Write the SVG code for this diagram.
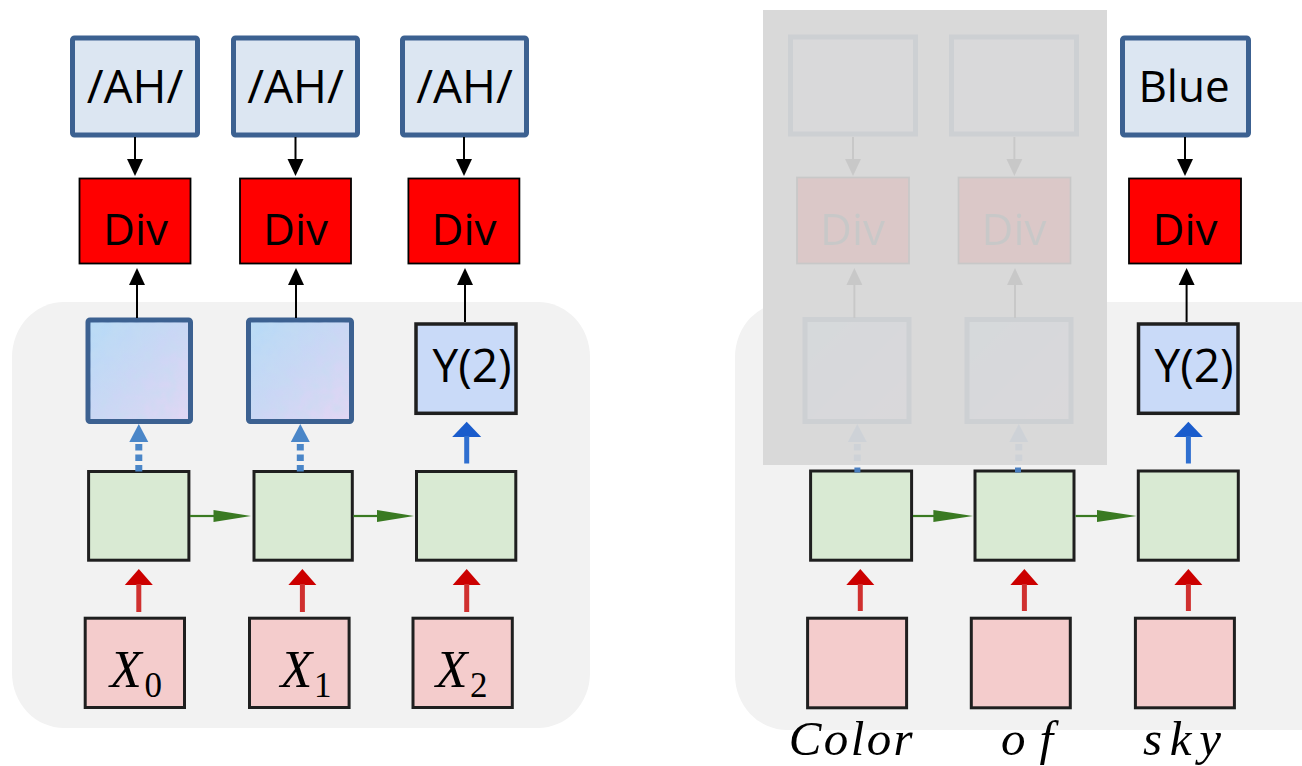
<svg xmlns="http://www.w3.org/2000/svg" width="1302" height="766" viewBox="0 0 1302 766">
<defs>
<linearGradient id="hidGrad" x1="0" y1="0" x2="1" y2="1">
<stop offset="0" stop-color="#b4dbf7"/>
<stop offset="0.5" stop-color="#cbd6f5"/>
<stop offset="1" stop-color="#e5d6f3"/>
</linearGradient>
<filter id="mottle" x="0" y="0" width="100%" height="100%">
<feTurbulence type="fractalNoise" baseFrequency="0.09" numOctaves="2" seed="4"/>
<feColorMatrix values="0 0 0 0 0.55  0 0 0 0 0.72  0 0 0 0 0.88  0 0 0 0.9 -0.25"/>
<feComposite in2="SourceGraphic" operator="in"/>
</filter>
<style>
.bg{fill:#f2f2f2}
.ah{fill:#dce6f2;stroke:#3c6191;stroke-width:5}
.dv{fill:#ff0000;stroke:#000;stroke-width:1.8}
.hid{fill:url(#hidGrad);stroke:#3c6191;stroke-width:5}
.tex{fill:#fff;filter:url(#mottle)}
.yb{fill:#c9daf8;stroke:#1f1f1f;stroke-width:3.5}
.rnn{fill:#d9ead3;stroke:#1f1f1f;stroke-width:3}
.inp{fill:#f4cccc;stroke:#1f1f1f;stroke-width:3}
.lbl{font-family:"Open Sans","Liberation Sans",sans-serif;fill:#000;text-anchor:middle}
.mi{font-family:"Liberation Serif",serif;font-style:italic;fill:#000}
.mu{font-family:"Liberation Serif",serif;fill:#000}
.blk{stroke:#000;stroke-width:2;fill:none}
.blkh{fill:#000}
.dot{stroke:#4a86c8;stroke-width:7;stroke-dasharray:6.5 4;fill:none}
.doth{fill:#4a86c8}
.sol{stroke:#2f6fd0;stroke-width:5;fill:none}
.solh{fill:#1a5ccc}
.red{stroke:#d0302f;stroke-width:5;fill:none}
.redh{fill:#cc0000}
.grn{stroke:#3a7a22;stroke-width:2.2;fill:none}
.grnh{fill:#3a7a22}
.ghost{opacity:0.07}
</style>
</defs>

<g id="backgrounds">
<rect class="bg" x="12" y="302" width="578" height="426" rx="52" ry="55"/>
<rect class="bg" x="735" y="302" width="620" height="428" rx="52" ry="55"/>
</g>

<g id="ah-0"><rect class="ah" x="72.5" y="38" width="125" height="97" rx="2"/><text class="lbl" x="135" y="103" font-size="46">/AH/</text></g>
<g id="ah-1"><rect class="ah" x="233.5" y="38" width="124" height="97" rx="2"/><text class="lbl" x="295.5" y="103" font-size="46">/AH/</text></g>
<g id="ah-2"><rect class="ah" x="402.5" y="38" width="124" height="97" rx="2"/><text class="lbl" x="464.5" y="103" font-size="46">/AH/</text></g>

<g id="div-0"><rect class="dv" x="79.5" y="178.5" width="111" height="85"/><text class="lbl" x="135.5" y="245" font-size="44">Div</text></g>
<g id="div-1"><rect class="dv" x="240" y="178.5" width="111" height="85"/><text class="lbl" x="295.5" y="245" font-size="44">Div</text></g>
<g id="div-2"><rect class="dv" x="408.4" y="178.5" width="111" height="85"/><text class="lbl" x="464" y="245" font-size="44">Div</text></g>

<g id="hidden-0"><rect class="hid" x="88" y="320" width="102.5" height="101.5" rx="2"/><rect class="tex" x="90.5" y="322.5" width="97.5" height="96.5"/></g>
<g id="hidden-1"><rect class="hid" x="248.5" y="320" width="103" height="101.5" rx="2"/><rect class="tex" x="251" y="322.5" width="98" height="96.5"/></g>
<g id="y-left"><rect class="yb" x="416" y="324" width="100" height="89.3"/><text class="lbl" x="472" y="382" font-size="46">Y(2)</text></g>

<g id="rnn-0"><rect class="rnn" x="88.6" y="471.5" width="100.3" height="88.7"/></g>
<g id="rnn-1"><rect class="rnn" x="254" y="471.5" width="98.3" height="88.7"/></g>
<g id="rnn-2"><rect class="rnn" x="416.5" y="471.5" width="99.3" height="88.7"/></g>

<g id="x-0"><rect class="inp" x="85.2" y="618.2" width="99.3" height="89.3"/><text class="mi" x="110" y="687" font-size="52">X</text><text class="mu" x="144.6" y="697" font-size="35">0</text></g>
<g id="x-1"><rect class="inp" x="249.5" y="618.2" width="99.6" height="89.3"/><text class="mi" x="280.4" y="687" font-size="52">X</text><text class="mu" x="314" y="697" font-size="35">1</text></g>
<g id="x-2"><rect class="inp" x="413" y="618.2" width="99.3" height="89.3"/><text class="mi" x="435.7" y="687" font-size="52">X</text><text class="mu" x="470" y="697" font-size="35">2</text></g>

<g id="blue"><rect class="ah" x="1122.5" y="38" width="126" height="97" rx="2"/><text class="lbl" x="1184" y="102" font-size="44">Blue</text></g>
<g id="div-r"><rect class="dv" x="1129" y="178.5" width="112" height="85"/><text class="lbl" x="1185" y="245" font-size="44">Div</text></g>
<g id="y-right"><rect class="yb" x="1138.5" y="324" width="99.5" height="89.3"/><text class="lbl" x="1194" y="382" font-size="46">Y(2)</text></g>

<g id="rnn-r0"><rect class="rnn" x="810.6" y="471" width="101" height="89.2"/></g>
<g id="rnn-r1"><rect class="rnn" x="975" y="471" width="99" height="89.2"/></g>
<g id="rnn-r2"><rect class="rnn" x="1138.3" y="471" width="100" height="89.2"/></g>

<g id="in-color"><rect class="inp" x="807.6" y="618.2" width="99" height="89.6"/><text class="mi" x="788.7" y="755" font-size="49" textLength="124" lengthAdjust="spacing">Color</text></g>
<g id="in-of"><rect class="inp" x="971.3" y="618.2" width="99" height="89.6"/><text class="mi" x="1001" y="755" font-size="49" textLength="52" lengthAdjust="spacing">of</text></g>
<g id="in-sky"><rect class="inp" x="1135.4" y="618.2" width="99" height="89.6"/><text class="mi" x="1143" y="755" font-size="49" textLength="78" lengthAdjust="spacing">sky</text></g>

<g id="connectors">
<line class="blk" x1="135" y1="137" x2="135" y2="160"/><polygon class="blkh" points="127,159 143,159 135,176"/>
<line class="blk" x1="295.5" y1="137" x2="295.5" y2="160"/><polygon class="blkh" points="287.5,159 303.5,159 295.5,176"/>
<line class="blk" x1="464" y1="137" x2="464" y2="160"/><polygon class="blkh" points="456,159 472,159 464,176"/>
<line class="blk" x1="1185" y1="137" x2="1185" y2="160"/><polygon class="blkh" points="1177,159 1193,159 1185,176"/>
<line class="blk" x1="137" y1="318" x2="137" y2="283"/><polygon class="blkh" points="129,285 145,285 137,268"/>
<line class="blk" x1="296" y1="318" x2="296" y2="283"/><polygon class="blkh" points="288,285 304,285 296,268"/>
<line class="blk" x1="465" y1="322" x2="465" y2="283"/><polygon class="blkh" points="457,285 473,285 465,268"/>
<line class="blk" x1="1186.6" y1="322" x2="1186.6" y2="283"/><polygon class="blkh" points="1178.6,285 1194.6,285 1186.6,268"/>
<polygon class="doth" points="129.3,442 148.3,442 138.8,424"/><line class="dot" x1="138.8" y1="444" x2="138.8" y2="473"/>
<polygon class="doth" points="290.8,442 309.8,442 300.3,424"/><line class="dot" x1="300.3" y1="444" x2="300.3" y2="473"/>
<polygon class="solh" points="452.2,437 481.2,437 466.7,421.7"/><line class="sol" x1="466.7" y1="436" x2="466.7" y2="463.5"/>
<polygon class="solh" points="1173.9,437 1202.9,437 1188.4,421.7"/><line class="sol" x1="1188.4" y1="436" x2="1188.4" y2="463.5"/>
<line class="grn" x1="190" y1="516" x2="215" y2="516"/><polygon class="grnh" points="213.5,510 213.5,522 251,516"/>
<line class="grn" x1="353.5" y1="516" x2="378" y2="516"/><polygon class="grnh" points="377,510 377,522 414,516"/>
<line class="grn" x1="913" y1="516" x2="935" y2="516"/><polygon class="grnh" points="933.4,510 933.4,522 973,516"/>
<line class="grn" x1="1075.5" y1="516" x2="1099" y2="516"/><polygon class="grnh" points="1097,510 1097,522 1136.5,516"/>
<polygon class="redh" points="124.8,585 152.8,585 138.8,569"/><line class="red" x1="138.8" y1="584" x2="138.8" y2="612"/>
<polygon class="redh" points="288.4,585 316.4,585 302.4,569"/><line class="red" x1="302.4" y1="584" x2="302.4" y2="612"/>
<polygon class="redh" points="452.7,585 480.7,585 466.7,569"/><line class="red" x1="466.7" y1="584" x2="466.7" y2="612"/>
<polygon class="redh" points="846.3,585 874.3,585 860.3,569"/><line class="red" x1="860.3" y1="584" x2="860.3" y2="611"/>
<polygon class="redh" points="1010.4,585 1038.4,585 1024.4,569"/><line class="red" x1="1024.4" y1="584" x2="1024.4" y2="611"/>
<polygon class="redh" points="1174.4,585 1202.4,585 1188.4,569"/><line class="red" x1="1188.4" y1="584" x2="1188.4" y2="611"/>
</g>

<g id="mask">
<rect x="763" y="10" width="344" height="455" fill="#d9d9d9"/>
<rect x="854.4" y="467.5" width="6" height="5" fill="#4a7fc0"/>
<rect x="1015" y="467.5" width="6" height="5" fill="#4a7fc0"/>
</g>

<g id="ghost" class="ghost">
<g id="ghost-ah-0"><rect class="ah" x="790.5" y="37" width="125" height="97"/></g>
<g id="ghost-ah-1"><rect class="ah" x="951.5" y="37" width="125" height="97"/></g>
<g id="ghost-div-0"><rect class="dv" x="797" y="177.5" width="112" height="86"/><text class="lbl" x="852.5" y="245" font-size="44">Div</text></g>
<g id="ghost-div-1"><rect class="dv" x="958.5" y="177.5" width="112" height="86"/><text class="lbl" x="1014" y="245" font-size="44">Div</text></g>
<g id="ghost-hidden-0"><rect class="hid" x="805" y="319.5" width="104" height="102"/></g>
<g id="ghost-hidden-1"><rect class="hid" x="967" y="319.5" width="104" height="102"/></g>
<g id="ghost-connectors">
<line class="blk" x1="853" y1="137" x2="853" y2="160"/><polygon class="blkh" points="845,159 861,159 853,176"/>
<line class="blk" x1="1014.4" y1="137" x2="1014.4" y2="160"/><polygon class="blkh" points="1006.4,159 1022.4,159 1014.4,176"/>
<line class="blk" x1="854.4" y1="318" x2="854.4" y2="283"/><polygon class="blkh" points="846.4,285 862.4,285 854.4,268"/>
<line class="blk" x1="1015" y1="318" x2="1015" y2="283"/><polygon class="blkh" points="1007,285 1023,285 1015,268"/>
<polygon class="doth" points="847.8,442 866.8,442 857.3,424"/><line class="dot" x1="857.3" y1="444" x2="857.3" y2="465"/>
<polygon class="doth" points="1009.3,442 1028.3,442 1018.8,424"/><line class="dot" x1="1018.8" y1="444" x2="1018.8" y2="465"/>
</g>
</g>
</svg>
